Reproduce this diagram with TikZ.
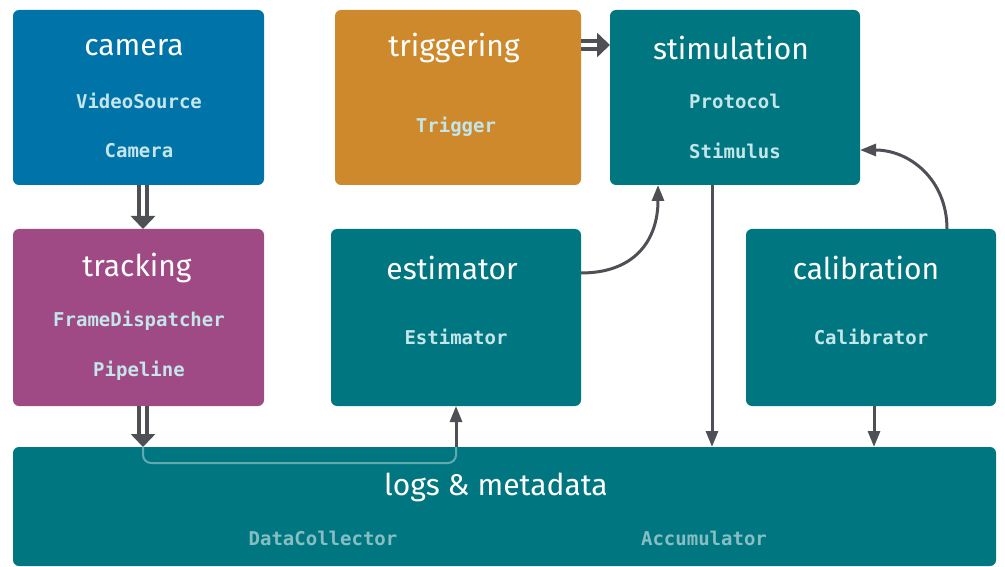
\documentclass[tikz,border=0pt]{standalone}
\usepackage{fontspec}
\setmainfont{Fira Sans}
\newfontfamily\codefont{DejaVu Sans Mono}
\usetikzlibrary{arrows.meta,calc}
\definecolor{camblue}{HTML}{0073A8}
\definecolor{trigorange}{HTML}{CD892B}
\definecolor{teal}{HTML}{007780}
\definecolor{trackpurple}{HTML}{A04A85}
\definecolor{wire}{HTML}{4F5056}
\definecolor{codelight}{HTML}{C4E6EA}
\definecolor{codedim}{HTML}{86BEC3}
\definecolor{innerline}{HTML}{62A9B0}
\begin{document}
\begin{tikzpicture}[x=1pt,y=-1pt,
  block/.style={fill=#1, rounded corners=6pt, draw=none},
  title/.style={text=white, font=\fontsize{30}{32}\selectfont, anchor=center, inner sep=0pt},
  code/.style={text=codelight, font=\codefont\bfseries\fontsize{19}{21}\selectfont, anchor=center, inner sep=0pt},
  codedimmed/.style={code, text=codedim},
  flow/.style={draw=wire, line width=3pt, -{Triangle[length=16pt,width=12pt]}},
  dblflow/.style={draw=wire, line width=4.5pt, double=white, double distance=3.5pt,
    -{Triangle[length=13pt,width=24pt]}},
]
\useasboundingbox (0,0) rectangle (1005,567);

% boxes
\path[block=camblue]     (13,10)   rectangle (264,185);
\path[block=trigorange]  (335,10)  rectangle (581,185);
\path[block=teal]        (610,10)  rectangle (860,185);
\path[block=trackpurple] (13,229)  rectangle (264,406);
\path[block=teal]        (331,229) rectangle (581,406);
\path[block=teal]        (746,229) rectangle (996,406);
\path[block=teal]        (13,447)  rectangle (996,566);

% named frames of the boxes
\node[inner sep=0pt, minimum width=251pt, minimum height=175pt] (camera)      at (138.5,97.5) {};
\node[inner sep=0pt, minimum width=246pt, minimum height=175pt] (triggering)  at (458,97.5) {};
\node[inner sep=0pt, minimum width=250pt, minimum height=175pt] (stimulation) at (735,97.5) {};
\node[inner sep=0pt, minimum width=251pt, minimum height=177pt] (tracking)    at (138.5,317.5) {};
\node[inner sep=0pt, minimum width=250pt, minimum height=177pt] (estimator)   at (456,317.5) {};
\node[inner sep=0pt, minimum width=250pt, minimum height=177pt] (calibration) at (871,317.5) {};
\node[inner sep=0pt, minimum width=983pt, minimum height=119pt] (logs)        at (504.5,506.5) {};

% titles
\node[title] (tcam)  at (134,48)  {camera};
\node[title] (ttrig) at (454,48)  {triggering};
\node[title] (tstim) at (731,48)  {stimulation};
\node[title] (ttrk)  at (137,268) {tracking};
\node[title] (test)  at (452,268) {estimator};
\node[title] (tcal)  at (866,268) {calibration};
\node[title] (tlog)  at (496,487) {logs \& metadata};

% class names
\node[code] (cVS)  at (139,101) {VideoSource};
\node[code] (cCam) at (139,151) {Camera};
\node[code] (cTrg) at (456,127) {Trigger};
\node[code] (cPro) at (735,101) {Protocol};
\node[code] (cSti) at (735,151) {Stimulus};
\node[code] (cFD)  at (139,321) {FrameDispatcher};
\node[code] (cPip) at (139,371) {Pipeline};
\node[code] (cEst) at (456,337) {Estimator};
\node[code] (cCal) at (871,337) {Calibrator};
\node[codedimmed] (cDC)  at (323,538) {DataCollector};
\node[codedimmed] (cAcc) at (704,538) {Accumulator};

% points on the box edges
\coordinate (camOut)  at (143,185);
\coordinate (trkIn)   at (143,229);
\coordinate (trkOut)  at (143,406);
\coordinate (logIn1)  at (143,447);
\coordinate (trigOut) at (581,45);
\coordinate (stimIn)  at (610,45);
\coordinate (estOut)  at (581,273);
\coordinate (stimBot) at (658,185);
\coordinate (stimOut) at (712,185);
\coordinate (logIn2)  at (712,447);
\coordinate (calTop)  at (947,229);
\coordinate (stimR)   at (860,150);
\coordinate (calOut)  at (874,406);
\coordinate (logIn3)  at (874,447);
\coordinate (logOut)  at (456,447);
\coordinate (estIn)   at (456,406);

% line running inside the logs box
\draw[innerline, line width=2pt, rounded corners=8pt]
  (logIn1) -- (143,463) -- (456,463) -- (logOut);

% connectors
\draw[dblflow] (camOut) -- (trkIn);
\draw[dblflow] (trkOut) -- (logIn1);
\draw[dblflow] (trigOut) -- (stimIn);
\draw[flow] (estOut) .. controls (635,273) and (658,240) .. (stimBot);
\draw[flow] (stimOut) -- (logIn2);
\draw[flow] (calTop) .. controls (947,180) and (910,150) .. (stimR);
\draw[flow] (calOut) -- (logIn3);
\draw[flow] (logOut) -- (estIn);
\end{tikzpicture}
\end{document}
